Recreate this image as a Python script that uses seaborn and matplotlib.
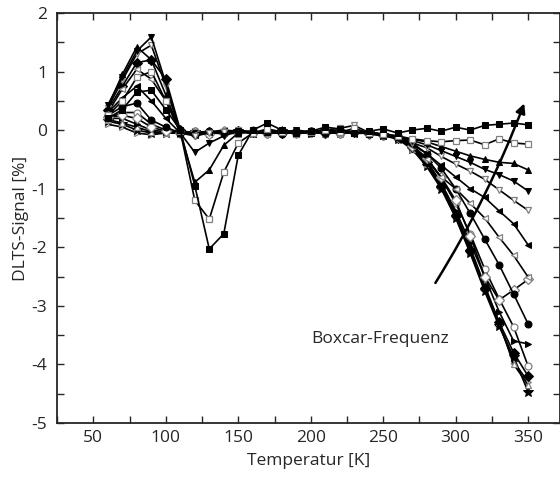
import numpy as np
import pandas as pd
import seaborn as sns
import matplotlib
matplotlib.use("Agg")
import matplotlib.pyplot as plt
from matplotlib.ticker import MultipleLocator

# Temperatur-Stuetzstellen (K)
temperatur = [60, 70, 80, 90, 100, 110, 120, 130, 140, 150,
              160, 170, 180, 190, 200, 210, 220, 230, 240, 250,
              260, 270, 280, 290, 300, 310, 320, 330, 340, 350]

# DLTS-Signal [%] je Boxcar-Frequenz
sig_sq_f = [0.20, 0.35, 0.65, 0.68, 0.35, 0.00, -0.95, -2.03, -1.77, -0.43,
            0.00, 0.12, 0.00, -0.05, -0.02, 0.05, 0.02, -0.05, -0.02, 0.02,
            -0.05, 0.00, 0.03, -0.02, 0.05, 0.00, 0.08, 0.10, 0.12, 0.09]
sig_sq_o = [0.25, 0.50, 0.90, 1.00, 0.50, -0.02, -1.20, -1.52, -0.72, -0.22,
            -0.05, 0.02, -0.03, -0.06, -0.03, 0.00, -0.04, 0.03, -0.05, -0.06,
            -0.10, -0.15, -0.18, -0.20, -0.18, -0.17, -0.25, -0.15, -0.22, -0.24]
sig_tu_f = [0.40, 0.95, 1.42, 1.20, 0.60, -0.05, -0.89, -0.68, -0.26, -0.05,
            -0.02, -0.04, 0.00, -0.03, -0.05, -0.02, 0.00, -0.04, -0.06, -0.08,
            -0.12, -0.16, -0.20, -0.28, -0.36, -0.44, -0.50, -0.55, -0.57, -0.68]
sig_td_f = [0.43, 0.90, 1.35, 1.59, 0.80, -0.05, -0.38, -0.22, -0.10, -0.02,
            -0.05, -0.02, -0.04, 0.00, -0.03, -0.06, -0.02, -0.05, -0.03, -0.08,
            -0.13, -0.18, -0.25, -0.35, -0.45, -0.55, -0.67, -0.76, -0.87, -1.04]
sig_td_o = [0.38, 0.85, 1.30, 1.45, 0.75, -0.05, -0.10, -0.05, -0.03, 0.00,
            -0.03, -0.05, -0.02, -0.06, -0.02, 0.00, 0.03, 0.08, -0.04, -0.08,
            -0.14, -0.22, -0.30, -0.45, -0.58, -0.70, -0.84, -1.02, -1.20, -1.37]
sig_tl_f = [0.30, 0.55, 0.75, 0.50, 0.20, -0.05, -0.08, -0.04, -0.02, -0.03,
            -0.06, -0.03, -0.05, -0.02, -0.04, -0.05, -0.03, -0.06, -0.05, -0.10,
            -0.15, -0.25, -0.40, -0.60, -0.80, -1.00, -1.15, -1.38, -1.60, -1.96]
sig_tl_o = [0.30, 0.70, 1.04, 0.87, 0.50, -0.05, -0.06, -0.03, 0.00, -0.02,
            -0.04, -0.06, -0.02, -0.05, -0.03, -0.02, -0.06, -0.03, -0.07, -0.09,
            -0.12, -0.28, -0.50, -0.80, -1.00, -1.25, -1.50, -1.83, -2.14, -2.51]
sig_ci_f = [0.25, 0.40, 0.46, 0.17, 0.05, -0.05, -0.05, -0.02, -0.04, -0.02,
            -0.05, -0.03, -0.06, -0.04, -0.02, -0.05, -0.04, -0.03, -0.06, -0.08,
            -0.10, -0.22, -0.40, -0.65, -1.00, -1.42, -1.86, -2.30, -2.80, -3.31]
sig_di_o = [0.22, 0.25, 0.20, 0.05, -0.02, -0.05, -0.04, -0.06, -0.02, -0.04,
            -0.02, -0.05, -0.03, -0.05, -0.04, -0.03, -0.05, -0.02, -0.06, -0.09,
            -0.12, -0.27, -0.48, -0.80, -1.20, -1.80, -2.50, -2.90, -2.73, -2.55]
sig_tr_f = [0.20, 0.20, 0.10, 0.00, -0.03, -0.05, -0.03, -0.05, -0.06, -0.03,
            -0.04, -0.02, -0.05, -0.03, -0.06, -0.04, -0.02, -0.05, -0.04, -0.10,
            -0.13, -0.28, -0.52, -0.90, -1.38, -1.92, -2.50, -3.10, -3.60, -3.65]
sig_ci_o = [0.20, 0.30, 0.30, 0.10, 0.00, -0.05, -0.02, -0.04, -0.05, -0.02,
            -0.03, -0.06, -0.04, -0.02, -0.05, -0.03, -0.06, -0.04, -0.03, -0.09,
            -0.12, -0.26, -0.48, -0.82, -1.25, -1.77, -2.37, -2.88, -3.36, -4.03]
sig_tu_o = [0.18, 0.12, 0.05, -0.03, -0.05, -0.05, -0.04, -0.02, -0.05, -0.06,
            -0.02, -0.04, -0.05, -0.03, -0.02, -0.06, -0.04, -0.05, -0.02, -0.08,
            -0.14, -0.32, -0.58, -0.95, -1.42, -2.00, -2.65, -3.28, -4.00, -4.35]
sig_star = [0.15, 0.10, 0.00, -0.05, -0.05, -0.05, -0.03, -0.05, -0.04, -0.02,
            -0.05, -0.03, -0.02, -0.05, -0.04, -0.02, -0.05, -0.03, -0.05, -0.08,
            -0.15, -0.33, -0.62, -1.00, -1.50, -2.10, -2.75, -3.35, -3.87, -4.47]
sig_di_f = [0.35, 0.75, 1.15, 1.20, 0.87, 0.00, -0.06, -0.03, -0.05, -0.02,
            -0.04, -0.02, -0.05, -0.04, -0.03, -0.05, -0.02, -0.04, -0.05, -0.09,
            -0.13, -0.29, -0.55, -0.95, -1.45, -2.05, -2.70, -3.28, -3.80, -4.20]
sig_tr_o = [0.10, 0.05, -0.05, -0.08, -0.05, -0.05, -0.02, -0.04, -0.03, -0.05,
            -0.02, -0.05, -0.03, -0.04, -0.05, -0.02, -0.04, -0.03, -0.06, -0.08,
            -0.14, -0.31, -0.60, -0.98, -1.48, -2.08, -2.70, -3.32, -3.95, -4.30]

# (Daten, Marker, gefuellt)
reihen = [
    (sig_tr_o, ">", False), (sig_star, "*", True), (sig_tu_o, "^", False),
    (sig_di_f, "D", True), (sig_ci_o, "o", False), (sig_tr_f, ">", True),
    (sig_di_o, "D", False), (sig_ci_f, "o", True), (sig_tl_o, "<", False),
    (sig_tl_f, "<", True), (sig_td_o, "v", False), (sig_td_f, "v", True),
    (sig_tu_f, "^", True), (sig_sq_o, "s", False), (sig_sq_f, "s", True),
]

sns.set_style("ticks")
plt.rcParams["font.family"] = ["Open Sans", "DejaVu Sans"]
plt.rcParams["axes.unicode_minus"] = False

fig = plt.figure(figsize=(5.6, 4.79), dpi=100)
ax = fig.add_axes([0.102, 0.117, 0.898, 0.856])

for werte, mk, voll in reihen:
    df = pd.DataFrame({"T": temperatur, "S": werte})
    sz = 7 if mk == "*" else 5
    if voll:
        sns.lineplot(data=df, x="T", y="S", ax=ax, color="black", lw=1.2,
                     marker=mk, markersize=sz, markerfacecolor="black",
                     markeredgecolor="black", legend=False)
    else:
        sns.lineplot(data=df, x="T", y="S", ax=ax, color="black", lw=1.2,
                     marker=mk, markersize=sz, markerfacecolor="white",
                     markeredgecolor="#808080", markeredgewidth=0.9, legend=False)

# Pfeil Boxcar-Frequenz
ax.annotate("", xy=(348, 0.5), xytext=(285, -2.65),
            arrowprops=dict(arrowstyle="-|>", color="black", lw=1.8,
                            mutation_scale=14,
                            connectionstyle="arc3,rad=0.05"))
ax.text(248, -3.57, "Boxcar-Frequenz", ha="center", va="center", fontsize=12.5)

ax.set_xlim(25, 372)
ax.set_ylim(-5, 2)
ax.xaxis.set_major_locator(MultipleLocator(50))
ax.xaxis.set_minor_locator(MultipleLocator(25))
ax.yaxis.set_major_locator(MultipleLocator(1))
ax.yaxis.set_minor_locator(MultipleLocator(0.5))
ax.tick_params(which="both", direction="in", top=True, right=True,
               length=5, width=1, labelsize=12.5)
ax.tick_params(axis="x", pad=5)
ax.tick_params(axis="y", pad=7)
ax.set_xticks([50, 100, 150, 200, 250, 300, 350])
ax.set_xlabel("Temperatur [K]", fontsize=12.5, labelpad=5)
ax.set_ylabel("DLTS-Signal [%]", fontsize=12.5, labelpad=2)
for sp in ax.spines.values():
    sp.set_linewidth(1.3)

fig.savefig("out.png", dpi=100)
